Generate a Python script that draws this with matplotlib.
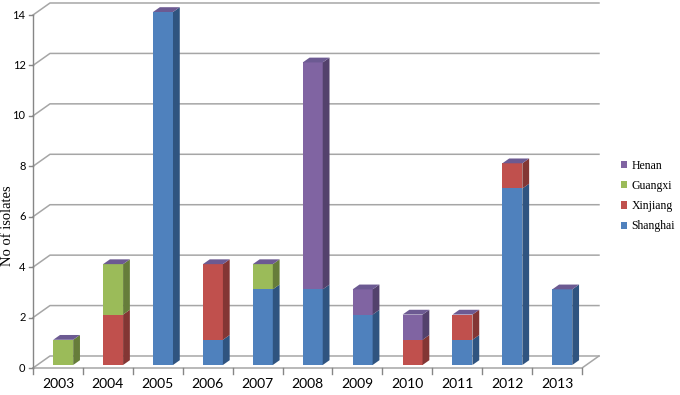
import numpy as np
import matplotlib.pyplot as plt
from matplotlib.patches import Polygon, Patch

years = ['2003', '2004', '2005', '2006', '2007', '2008', '2009', '2010', '2011', '2012', '2013']
shanghai = [0, 0, 14, 1, 3, 3, 2, 0, 1, 7, 3]
xinjiang = [0, 2, 0, 3, 0, 0, 0, 1, 1, 1, 0]
guangxi = [1, 2, 0, 0, 1, 0, 0, 0, 0, 0, 0]
henan = [0, 0, 0, 0, 0, 9, 1, 1, 0, 0, 0]

series = [('Shanghai', shanghai, '#4f81bd', '#2f5480'),
          ('Xinjiang', xinjiang, '#c0504d', '#833634'),
          ('Guangxi', guangxi, '#9bbb59', '#667d3a'),
          ('Henan', henan, '#8064a2', '#53416c')]
top_col = '#6c5a92'
grid_col = '#a6a6a6'

# oblique offsets (data units)
DX, DY = 0.34, 0.476           # floor / wall depth
bx, by = 0.25 * DX, 0.25 * DY  # bar front offset
sx, sy = 0.4 * DX, 0.4 * DY    # bar depth
bw = 0.4

fig = plt.figure(figsize=(6.8, 3.95), dpi=100)
ax = fig.add_axes([33 / 680, 27 / 395, 549 / 680, 353 / 395])
ax.set_xlim(0, 11)
ax.set_ylim(0, 14)
for s in ax.spines.values():
    s.set_visible(False)
ax.set_xticks([])
ax.set_yticks([])

n = len(years)
# gridlines (wall + side lines)
for v in range(0, 15, 2):
    ax.plot([0, DX, n + DX], [v, v + DY, v + DY], color=grid_col, lw=1.1, clip_on=False, zorder=1)
    ax.plot([-0.08, 0], [v, v], color='#868686', lw=1, clip_on=False)
    ax.text(-0.15, v, str(v), ha='right', va='center', fontsize=8, family='Lato')
# floor edges
ax.plot([0, n, n + DX], [0, 0, DY], color=grid_col, lw=1.1, clip_on=False, zorder=1)
ax.plot([0, 0], [0, 14], color='#868686', lw=1, clip_on=False)
for i in range(n + 1):
    ax.plot([i, i], [0, -0.25], color='#868686', lw=1, clip_on=False)
for i, y in enumerate(years):
    ax.text(i + 0.5, -0.62, y, ha='center', va='center', fontsize=10, family='Lato')

for i in range(n):
    x0 = i + 0.32 + bx
    base = by
    for name, vals, fc, sc in series:
        v = vals[i]
        if v == 0:
            continue
        y0, y1 = base, base + v
        ax.add_patch(Polygon([(x0, y0), (x0 + bw, y0), (x0 + bw, y1), (x0, y1)],
                             closed=True, fc=fc, ec='none', zorder=3, clip_on=False))
        ax.add_patch(Polygon([(x0 + bw, y0), (x0 + bw + sx, y0 + sy), (x0 + bw + sx, y1 + sy), (x0 + bw, y1)],
                             closed=True, fc=sc, ec='none', zorder=3, clip_on=False))
        base = y1
    ax.add_patch(Polygon([(x0, base), (x0 + bw, base), (x0 + bw + sx, base + sy), (x0 + sx, base + sy)],
                         closed=True, fc=top_col, ec='none', zorder=3, clip_on=False))

fig.text(8 / 680, 1 - 226 / 395, 'No of isolates', rotation=90, ha='center', va='center',
         fontsize=10.5, family='Liberation Serif')

handles = [Patch(fc=c, ec='none', label=nm) for nm, _, c, _ in series][::-1]
fig.legend(handles=handles, loc='center left', bbox_to_anchor=(621 / 680, 1 - 196 / 395),
           frameon=False, prop={'family': 'Liberation Serif', 'size': 8.5},
           handlelength=0.55, handleheight=0.55, handletextpad=0.35, labelspacing=0.7,
           borderpad=0, borderaxespad=0)

fig.savefig('out.png', dpi=100)
